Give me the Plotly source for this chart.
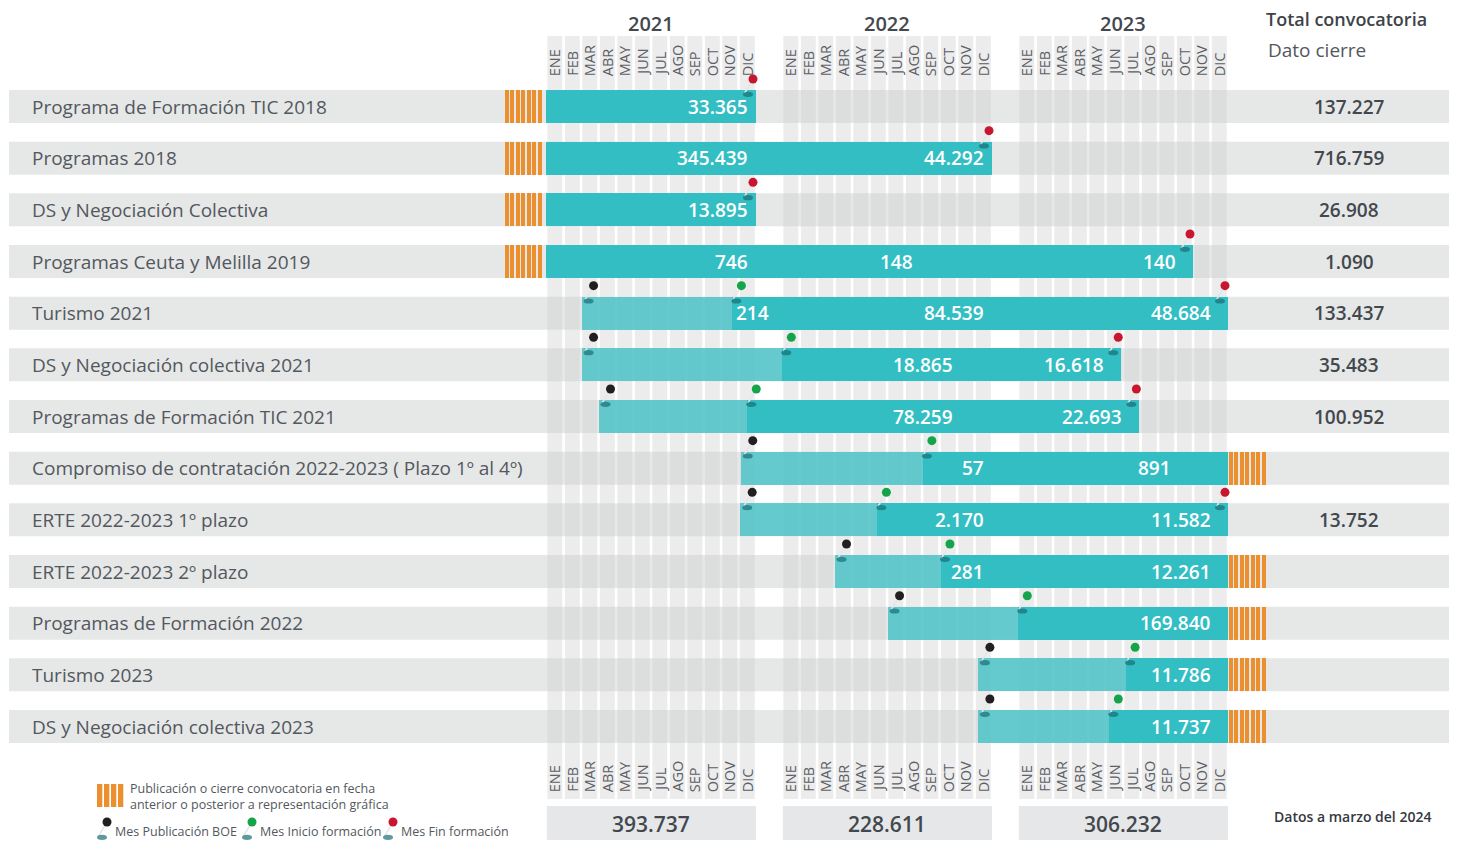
import calendar
import plotly.graph_objects as go

# ---------------- DATA ----------------
programs = [
    "Programa de Formación TIC 2018",
    "Programas 2018",
    "DS y Negociación Colectiva",
    "Programas Ceuta y Melilla 2019",
    "Turismo 2021",
    "DS y Negociación colectiva 2021",
    "Programas de Formación TIC 2021",
    "Compromiso de contratación 2022-2023 ( Plazo 1º al 4º)",
    "ERTE 2022-2023 1º plazo",
    "ERTE 2022-2023 2º plazo",
    "Programas de Formación 2022",
    "Turismo 2023",
    "DS y Negociación colectiva 2023",
]
pub_dates = [None, None, None, None, "2021-03-02", "2021-03-02", "2021-04-01",
             "2021-12-05", "2021-12-04", "2022-04-01", "2022-07-02", "2022-12-07", "2022-12-07"]
start_dates = ["2021-01-01", "2021-01-01", "2021-01-01", "2021-01-01", "2021-11-20", "2022-01-01",
               "2021-12-16", "2022-09-02", "2022-06-14", "2022-10-03", "2023-01-01", "2023-07-06",
               "2023-06-07"]
end_dates = ["2021-12-31", "2022-12-31", "2021-12-31", "2023-10-31", "2023-12-31", "2023-06-27",
             "2023-07-29", "2023-12-31", "2023-12-31", "2023-12-31", "2023-12-31", "2023-12-31",
             "2023-12-31"]
end_pin = [True, True, True, True, True, True, True, False, True, False, False, False, False]
earlier_publication = [True, True, True, True, False, False, False, False, False, False, False, False, False]
later_closing = [False, False, False, False, False, False, False, True, False, True, True, True, True]

values_2021 = [33365, 345439, 13895, 746, 214, None, None, None, None, None, None, None, None]
values_2022 = [None, 44292, None, 148, 84539, 18865, 78259, 57, 2170, 281, None, None, None]
values_2023 = [None, None, None, 140, 48684, 16618, 22693, 891, 11582, 12261, 169840, 11786, 11737]
total_convocatoria = [137227, 716759, 26908, 1090, 133437, 35483, 100952, None, 13752, None, None, None, None]

years = [2021, 2022, 2023]
year_totals = [393737, 228611, 306232]
months = ["ENE", "FEB", "MAR", "ABR", "MAY", "JUN", "JUL", "AGO", "SEP", "OCT", "NOV", "DIC"]

# ---------------- LAYOUT CONSTANTS ----------------
W, H = 1459, 842
OFF = 8            # page body margin
PX = 17.5          # pixels per month
X0PX = 546         # pixel of Jan 2021
GAP = 26 / PX      # gap between years (months)
RY = 51.67         # pixels per row
Y0PX = 106.5       # pixel centre of first row
BAND = 33 / RY     # band height in row units

TEAL = "#33bec4"
TEAL_LIGHT = "rgba(51,191,196,0.72)"
ORANGE = "#ec8f2e"
TXT = "#53585e"
DARK = "#43484e"
FONT = "Open Sans"


def xpx(p):
    return (p - X0PX) / PX


def ypx(p):
    return (p - Y0PX) / RY


def year_start(yi):
    return yi * (12 + GAP)


def t_of(s, end=False):
    y, m, d = map(int, s.split("-"))
    dim = calendar.monthrange(y, m)[1]
    frac = (d if end else d - 1) / dim
    return year_start(y - 2021) + (m - 1) + frac


def fmt(v):
    return f"{v:,}".replace(",", ".")


fig = go.Figure()
shapes = []
annotations = []

# month columns
for yi in range(3):
    for k in range(12):
        x0 = year_start(yi) + k + 0.08
        shapes.append(dict(type="rect", xref="x", yref="y", x0=x0, x1=x0 + 0.85,
                           y0=ypx(36), y1=ypx(799), fillcolor="#ececec",
                           line=dict(width=0), layer="below"))
# row bands
for i in range(len(programs)):
    shapes.append(dict(type="rect", xref="x", yref="y", x0=xpx(9), x1=xpx(1449),
                       y0=i - BAND / 2, y1=i + BAND / 2,
                       fillcolor="rgba(202,203,205,0.47)", line=dict(width=0), layer="below"))

rows = list(range(len(programs)))
t_start = [t_of(s) for s in start_dates]
t_end = [t_of(s, end=True) for s in end_dates]
t_pub = [t_of(s) if s else None for s in pub_dates]

# light bars (publication -> start)
lr = [i for i in rows if t_pub[i] is not None]
fig.add_trace(go.Bar(orientation="h", y=lr, base=[t_pub[i] for i in lr],
                     x=[t_start[i] - t_pub[i] for i in lr], width=BAND,
                     marker=dict(color=TEAL_LIGHT, line=dict(width=0)), hoverinfo="skip"))
# teal bars (start -> end)
fig.add_trace(go.Bar(orientation="h", y=rows, base=t_start,
                     x=[t_end[i] - t_start[i] for i in rows], width=BAND,
                     marker=dict(color=TEAL, line=dict(width=0)), hoverinfo="skip"))

# orange stripes
N_STR, PITCH, SW = 7, 5.5 / PX, 4.3 / PX
sy, sb, sx = [], [], []
for i in rows:
    if earlier_publication[i]:
        edge = t_start[i] - 3 / PX - N_STR * PITCH
        for k in range(N_STR):
            sy.append(i); sb.append(edge + k * PITCH); sx.append(SW)
    if later_closing[i]:
        edge = t_end[i] + 0.5 / PX
        for k in range(N_STR):
            sy.append(i); sb.append(edge + k * PITCH); sx.append(SW)
fig.add_trace(go.Bar(orientation="h", y=sy, base=sb, x=sx, width=BAND,
                     marker=dict(color=ORANGE, line=dict(width=0)), hoverinfo="skip"))

# values inside bars
label_shift = {(3, 1): -4.06, (5, 1): -1.77, (6, 1): -1.77, (7, 2): -2.29}
for i in rows:
    for yi, vals in enumerate([values_2021, values_2022, values_2023]):
        v = vals[i]
        if v is None:
            continue
        seg_lo = max(t_start[i], year_start(yi) - (GAP if yi > 0 else 0))
        seg_hi = min(t_end[i], year_start(yi) + 12)
        pad = (15 if yi == 2 else 6) / PX
        txt = fmt(v)
        est_w = len(txt) * 11 / PX
        if (seg_hi - seg_lo) < est_w + 10 / PX:
            annotations.append(dict(x=t_start[i] + 2 / PX, y=i, xref="x", yref="y", text=txt,
                                    showarrow=False, xanchor="left", yanchor="middle",
                                    font=dict(family=FONT, size=19, color="white", weight=600)))
        else:
            annotations.append(dict(x=seg_hi - pad + label_shift.get((i, yi), 0), y=i, xref="x", yref="y",
                                    text=txt, showarrow=False, xanchor="right", yanchor="middle",
                                    font=dict(family=FONT, size=19, color="white", weight=600)))

# pins
pins = {"#231f20": [], "#14a44a": [], "#c8162e": []}
for i in rows:
    dy = i - 27.5 / RY
    if t_pub[i] is not None:
        pins["#231f20"].append((t_pub[i] + 12 / PX, dy))
        pins["#14a44a"].append((t_start[i] + 9.3 / PX, dy))
    if end_pin[i]:
        pins["#c8162e"].append((t_end[i] - 3 / PX, dy))


def add_pins(pts, color):
    lx, ly = [], []
    for (x, y) in pts:
        shapes.append(dict(type="circle", xref="x", yref="y",
                           x0=x - 5 / PX - 5 / PX, x1=x - 5 / PX + 5 / PX,
                           y0=y + 15.3 / RY - 2.6 / RY, y1=y + 15.3 / RY + 2.6 / RY,
                           fillcolor="rgba(25,110,115,0.7)", line=dict(width=0), layer="above"))
        lx += [x, x - 8.4 / PX, None]
        ly += [y, y + 14 / RY, None]
    fig.add_trace(go.Scatter(x=lx, y=ly, mode="lines", line=dict(color="#e4e6e8", width=1.5),
                             hoverinfo="skip"))
    fig.add_trace(go.Scatter(x=[p[0] for p in pts], y=[p[1] for p in pts], mode="markers",
                             marker=dict(color=color, size=9, line=dict(width=0)), hoverinfo="skip"))


for c, pts in pins.items():
    add_pins(pts, c)

# row labels and totals
for i in rows:
    annotations.append(dict(x=xpx(30), y=i, xref="x", yref="y", text=programs[i], showarrow=False,
                            xanchor="left", yanchor="middle",
                            font=dict(family=FONT, size=19, color=TXT)))
    if total_convocatoria[i] is not None:
        annotations.append(dict(x=xpx(1349), y=i, xref="x", yref="y", text=fmt(total_convocatoria[i]),
                                showarrow=False, xanchor="center", yanchor="middle",
                                font=dict(family=FONT, size=19, color=DARK, weight=600)))

# header/footer: years, months, year totals
for yi, yr in enumerate(years):
    xc = year_start(yi) + 6
    annotations.append(dict(x=xc, y=ypx(23), xref="x", yref="y", text=str(yr), showarrow=False,
                            xanchor="center", yanchor="middle",
                            font=dict(family=FONT, size=20, color=DARK, weight=600)))
    for k, m in enumerate(months):
        xm = year_start(yi) + k + 0.5
        for yb in (ypx(78), ypx(794)):
            annotations.append(dict(x=xm, y=yb, xref="x", yref="y", text=m, showarrow=False,
                                    textangle=-90, xanchor="center", yanchor="bottom",
                                    font=dict(family=FONT, size=14.5, color="#5b6066")))
    shapes.append(dict(type="rect", xref="x", yref="y", x0=year_start(yi) + 0.05, x1=year_start(yi) + 12,
                       y0=ypx(806), y1=ypx(840), fillcolor="#e6e7e8", line=dict(width=0), layer="below"))
    annotations.append(dict(x=xc, y=ypx(824), xref="x", yref="y", text=fmt(year_totals[yi]),
                            showarrow=False, xanchor="center", yanchor="middle",
                            font=dict(family=FONT, size=21, color=DARK, weight=600)))

annotations += [
    dict(x=xpx(1264), y=ypx(19), xref="x", yref="y", text="Total convocatoria", showarrow=False,
         xanchor="left", yanchor="middle", font=dict(family=FONT, size=18, color="#3e4349", weight=600)),
    dict(x=xpx(1266), y=ypx(50), xref="x", yref="y", text="Dato cierre", showarrow=False,
         xanchor="left", yanchor="middle", font=dict(family=FONT, size=19, color=TXT)),
    dict(x=xpx(1433), y=ypx(816), xref="x", yref="y", text="Datos a marzo del 2024", showarrow=False,
         xanchor="right", yanchor="middle", font=dict(family=FONT, size=14, color="#34393f", weight=600)),
    dict(x=xpx(128), y=ypx(796), xref="x", yref="y",
         text="Publicación o cierre convocatoria en fecha<br>anterior o posterior a representación gráfica",
         showarrow=False, xanchor="left", yanchor="middle", align="left",
         font=dict(family=FONT, size=12.5, color=TXT)),
]

# legend: orange icon
for k in range(4):
    x0 = xpx(97) + k * 7 / PX
    shapes.append(dict(type="rect", xref="x", yref="y", x0=x0, x1=x0 + 5.3 / PX,
                       y0=ypx(784), y1=ypx(807), fillcolor=ORANGE, line=dict(width=0)))
# legend: pins
leg_pins = [("#231f20", 107, "Mes Publicación BOE"), ("#14a44a", 252, "Mes Inicio formación"),
            ("#c8162e", 393, "Mes Fin formación")]
for c, px, lab in leg_pins:
    add_pins([(xpx(px), ypx(822))], c)
    annotations.append(dict(x=xpx(px + 6), y=ypx(831), xref="x", yref="y", text=lab, showarrow=False,
                            xanchor="left", yanchor="middle", font=dict(family=FONT, size=12.5, color=TXT)))

# the page body has an 8px margin: shift the axis windows so that page pixels line up
fig.update_layout(
    width=W - OFF, height=H - OFF, margin=dict(l=0, r=0, t=0, b=0),
    paper_bgcolor="white", plot_bgcolor="white",
    barmode="overlay", bargap=0, showlegend=False,
    xaxis=dict(range=[xpx(OFF), xpx(W)], visible=False, fixedrange=True),
    yaxis=dict(range=[ypx(H), ypx(OFF)], visible=False, fixedrange=True),
    shapes=shapes, annotations=annotations,
)

fig.write_html("out.html")
